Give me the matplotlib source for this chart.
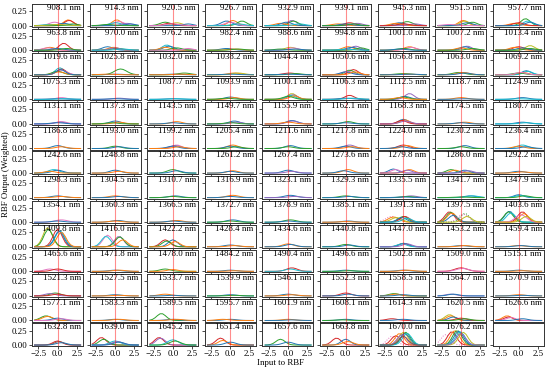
import numpy as np
import matplotlib
matplotlib.use("Agg")
import matplotlib.pyplot as plt

plt.rcParams['font.family'] = ['Liberation Serif', 'DejaVu Serif']

WAVELENGTHS = [
    908.1, 914.3, 920.5, 926.7, 932.9, 939.1, 945.3, 951.5, 957.7,
    963.8, 970.0, 976.2, 982.4, 988.6, 994.8, 1001.0, 1007.2, 1013.4,
    1019.6, 1025.8, 1032.0, 1038.2, 1044.4, 1050.6, 1056.8, 1063.0, 1069.2,
    1075.3, 1081.5, 1087.7, 1093.9, 1100.1, 1106.3, 1112.5, 1118.7, 1124.9,
    1131.1, 1137.3, 1143.5, 1149.7, 1155.9, 1162.1, 1168.3, 1174.5, 1180.7,
    1186.8, 1193.0, 1199.2, 1205.4, 1211.6, 1217.8, 1224.0, 1230.2, 1236.4,
    1242.6, 1248.8, 1255.0, 1261.2, 1267.4, 1273.6, 1279.8, 1286.0, 1292.2,
    1298.3, 1304.5, 1310.7, 1316.9, 1323.1, 1329.3, 1335.5, 1341.7, 1347.9,
    1354.1, 1360.3, 1366.5, 1372.7, 1378.9, 1385.1, 1391.3, 1397.5, 1403.6,
    1409.8, 1416.0, 1422.2, 1428.4, 1434.6, 1440.8, 1447.0, 1453.2, 1459.4,
    1465.6, 1471.8, 1478.0, 1484.2, 1490.4, 1496.6, 1502.8, 1509.0, 1515.1,
    1521.3, 1527.5, 1533.7, 1539.9, 1546.1, 1552.3, 1558.5, 1564.7, 1570.9,
    1577.1, 1583.3, 1589.5, 1595.7, 1601.9, 1608.1, 1614.3, 1620.5, 1626.6,
    1632.8, 1639.0, 1645.2, 1651.4, 1657.6, 1663.8, 1670.0, 1676.2,
]

# per panel: (centre, height, colour index, sigma[, linestyle])
CURVES = [
    # 908.1 .. 957.7
    [(-0.4, .06, 6, .7), (-1.0, .02, 9, .9), (1.4, .10, 1, .6), (1.5, .09, 3, .6), (0.8, .04, 0, .7), (2.0, .03, 2, .6), (0.0, .02, 8, 1.)],
    [(0.2, .10, 1, .6), (0.5, .07, 6, .7), (0.0, .05, 9, .8), (1.5, .04, 4, .7), (2.0, .03, 0, .6), (-1.0, .02, 2, .8)],
    [(-1.0, .06, 2, .7), (0.5, .05, 8, .7), (-0.5, .04, 3, .7), (2.0, .03, 0, .6), (0.0, .03, 6, .9)],
    [(-0.5, .08, 0, .7), (0.3, .09, 1, .6), (1.5, .08, 2, .6), (0.0, .06, 6, .7), (1.0, .03, 9, .8)],
    [(0.5, .09, 4, .6), (0.7, .08, 2, .6), (-1.0, .04, 1, .7), (-0.2, .06, 0, .7), (1.5, .03, 9, .7)],
    [(-1.0, .03, 1, .8), (0.5, .05, 3, .7), (1.5, .04, 4, .7), (0.0, .03, 0, .8), (1.0, .03, 2, .7)],
    [(0.5, .07, 2, .7), (-0.5, .05, 0, .7), (-1.0, .04, 1, .7), (1.5, .03, 4, .7), (0.0, .03, 3, .8)],
    [(0.3, .09, 1, .6), (0.5, .08, 8, .6), (1.5, .06, 2, .6), (0.8, .05, 0, .7), (-1.5, .02, 6, .8)],
    [(0.9, .12, 2, .6), (1.2, .08, 9, .6), (-0.5, .04, 1, .7), (0.0, .05, 3, .7), (1.5, .06, 0, .6)],
    # 963.8 .. 1013.4
    [(0.8, .12, 3, .6), (-1.0, .05, 1, .7), (-1.3, .04, 6, .7), (0.0, .03, 0, .8), (1.2, .03, 2, .7)],
    [(-1.0, .06, 0, .7), (-0.2, .05, 1, .7), (0.3, .03, 2, .8), (0.0, .04, 4, .7), (1.0, .02, 9, .8)],
    [(-0.8, .09, 9, .6), (-0.5, .07, 0, .7), (-1.0, .05, 1, .7), (0.5, .04, 2, .7), (2.0, .03, 6, .6)],
    [(-0.5, .03, 0, .8), (0.5, .02, 1, .8), (1.0, .02, 2, .8)],
    [(0.3, .05, 8, .7), (0.6, .04, 6, .7), (-1.0, .02, 2, .8), (1.0, .02, 0, .8)],
    [(1.3, .07, 4, .6), (0.3, .06, 1, .7), (0.8, .05, 0, .7), (2.0, .04, 2, .6), (0.0, .02, 9, .8)],
    [(0.8, .06, 1, .7), (1.0, .05, 6, .7), (0.0, .03, 2, .8), (-0.5, .02, 0, .8)],
    [(0.8, .07, 4, .6), (0.5, .06, 0, .7), (0.0, .04, 1, .7), (1.5, .03, 2, .7)],
    [(1.5, .08, 8, .6), (0.0, .06, 3, .7), (-0.5, .05, 1, .7), (0.5, .04, 0, .7), (1.5, .03, 2, .7)],
    # 1019.6 .. 1069.2
    [(0.3, .12, 9, .6), (0.5, .10, 3, .6), (0.5, .08, 6, .7), (0.0, .06, 2, .7), (0.2, .05, 1, .7), (0.4, .09, 0, .6)],
    [(0.7, .10, 2, .8), (0.0, .01, 0, 1.), (-1.0, .01, 1, 1.)],
    [(1.5, .03, 2, .8), (0.0, .01, 0, 1.), (1.0, .01, 1, 1.)],
    [(0.5, .03, 1, .8), (1.0, .03, 8, .8), (0.0, .01, 0, 1.)],
    [(0.2, .03, 3, .8), (1.0, .02, 2, .8), (0.0, .01, 0, 1.)],
    [(1.0, .09, 3, .6), (0.5, .08, 2, .6), (0.2, .06, 6, .7), (0.0, .05, 0, .7), (1.2, .05, 1, .6)],
    [(0.0, .02, 2, 1.), (0.5, .01, 1, 1.), (1.0, .01, 0, 1.)],
    [(-0.3, .04, 2, .8), (0.3, .04, 1, .8), (0.5, .03, 0, .8)],
    [(1.0, .07, 0, .6), (1.2, .06, 9, .6), (0.5, .04, 1, .7), (0.0, .03, 2, .8), (0.3, .04, 6, .7)],
    # 1075.3 .. 1124.9
    [(0.5, .03, 6, .7), (0.0, .01, 0, 1.), (1.0, .01, 9, 1.)],
    [(0.5, .02, 4, .8), (0.0, .01, 0, 1.)],
    [(0.0, .01, 0, 1.), (0.5, .01, 9, 1.)],
    [(0.0, .04, 0, .7), (0.5, .03, 1, .7), (-0.5, .02, 2, .8)],
    [(0.5, .10, 8, .6), (0.6, .08, 4, .6), (0.3, .07, 9, .6), (0.8, .06, 1, .6), (0.0, .05, 2, .7)],
    [(0.5, .07, 3, .6), (0.0, .02, 0, .9), (1.0, .02, 9, .9)],
    [(0.8, .10, 4, .6), (0.2, .05, 0, .7), (0.0, .04, 2, .7), (-0.5, .03, 1, .7)],
    [(0.0, .03, 1, .8), (0.5, .01, 0, 1.)],
    [(0.5, .03, 0, .8), (0.0, .01, 9, 1.)],
    # 1131.1 .. 1180.7
    [(0.5, .04, 6, .7), (0.3, .03, 4, .7), (0.0, .02, 0, .9)],
    [(0.0, .05, 0, .7), (0.5, .03, 1, .7), (-0.5, .02, 2, .8)],
    [(0.5, .04, 1, .7), (0.0, .02, 0, .8)],
    [(0.5, .05, 0, .7), (0.8, .03, 4, .7), (0.0, .02, 2, .8)],
    [(0.5, .06, 0, .7), (0.6, .05, 4, .7), (0.0, .03, 1, .8)],
    [(0.3, .04, 2, .7), (0.0, .02, 0, .8)],
    [(0.0, .08, 0, .6), (0.2, .07, 1, .6), (-0.2, .06, 3, .6), (0.3, .05, 4, .7)],
    [(0.5, .03, 1, .8), (0.0, .02, 0, .8)],
    [(0.5, .03, 0, .8), (1.0, .02, 9, .8)],
    # 1186.8 .. 1236.4
    [(0.0, .05, 0, .7), (0.5, .03, 1, .7)],
    [(0.0, .04, 2, .7), (0.5, .03, 0, .7)],
    [(0.5, .06, 6, .6), (0.3, .05, 4, .7), (0.0, .04, 0, .7), (0.8, .03, 1, .7)],
    [(0.3, .06, 1, .7), (0.0, .04, 0, .7), (0.8, .03, 2, .7)],
    [(0.3, .05, 0, .7), (0.0, .03, 2, .7)],
    [(0.5, .06, 4, .7), (0.0, .04, 0, .7), (0.8, .03, 1, .7)],
    [(0.0, .06, 3, .7), (0.5, .05, 1, .7), (-0.3, .03, 0, .7)],
    [(0.5, .05, 0, .7), (0.0, .03, 2, .7)],
    [(0.5, .06, 9, .7), (0.0, .04, 1, .7), (1.0, .03, 0, .7)],
    # 1242.6 .. 1292.2
    [(-0.5, .06, 9, .7), (0.0, .05, 0, .7), (-1.0, .03, 1, .7)],
    [(0.0, .05, 0, .7), (0.5, .03, 1, .7)],
    [(0.0, .06, 2, .7), (0.5, .04, 0, .7)],
    [(0.3, .04, 1, .7), (0.0, .03, 0, .7)],
    [(0.0, .05, 0, .7), (0.5, .03, 4, .7)],
    [(0.3, .06, 1, .7), (-0.3, .04, 0, .7)],
    [(-1.3, .07, 0, .6), (-1.0, .06, 6, .6), (0.8, .06, 1, .6), (0.5, .05, 4, .6)],
    [(-1.3, .06, 2, .6), (-0.8, .05, 1, .6), (0.5, .05, 0, .6), (1.0, .04, 4, .6)],
    [(0.0, .03, 0, .8), (0.5, .02, 1, .8)],
    # 1298.3 .. 1347.9
    [(0.0, .03, 0, .8), (0.5, .02, 1, .8)],
    [(0.0, .03, 1, .8), (0.5, .02, 0, .8)],
    [(0.3, .03, 0, .8), (0.0, .02, 2, .8)],
    [(0.3, .04, 1, .8), (0.0, .02, 0, .8)],
    [(0.3, .04, 0, .8), (0.8, .02, 4, .8)],
    [(0.0, .03, 2, .8), (0.5, .02, 0, .8)],
    [(1.0, .03, 4, .8), (0.5, .02, 2, .8), (0.0, .01, 0, 1.)],
    [(1.2, .03, 0, .8), (1.5, .03, 9, .8), (0.0, .01, 2, 1.)],
    [(0.0, .05, 0, .6), (0.3, .04, 9, .7), (0.8, .03, 2, .7)],
    # 1354.1 .. 1403.6
    [(0.5, .04, 6, .8), (0.0, .02, 0, .8)],
    [(0.3, .03, 0, .8), (0.0, .02, 1, .8)],
    [(0.5, .03, 1, .8), (0.0, .02, 0, .8)],
    [(0.3, .04, 0, .8), (0.0, .02, 2, .8)],
    [(0.3, .04, 2, .8), (0.0, .02, 0, .8)],
    [(0.3, .02, 0, .8), (0.0, .01, 1, .8)],
    [(-1.5, .10, 6, .8, ':'), (-1.3, .09, 1, .7), (-0.9, .08, 8, .7), (0.0, .10, 2, .6), (0.2, .10, 3, .6),
     (-0.2, .08, 0, .6), (0.5, .07, 9, .6)],
    [(-1.5, .18, 3, .6), (-1.3, .17, 2, .6), (-1.2, .16, 1, .6), (-1.0, .12, 0, .6), (0.3, .14, 6, .7, ':'),
     (0.5, .15, 2, .6, ':'), (0.8, .10, 8, .6)],
    [(-1.2, .19, 0, .6), (-1.3, .18, 2, .6), (-1.0, .16, 9, .6), (0.5, .18, 3, .6), (0.7, .15, 1, .6),
     (0.3, .13, 6, .7), (1.0, .10, 8, .6)],
    # 1409.8 .. 1459.4
    [(-1.3, .33, 8, .6), (-1.2, .30, 2, .6), (0.0, .30, 3, .6), (0.3, .28, 9, .6), (0.2, .27, 0, .6), (0.5, .25, 1, .6)],
    [(-1.0, .20, 6, .6), (-1.2, .18, 9, .6), (0.5, .18, 4, .6), (0.6, .17, 2, .6), (1.0, .12, 1, .6)],
    [(-1.0, .12, 3, .6), (0.0, .12, 0, .6), (-0.8, .10, 2, .6), (0.3, .09, 1, .6)],
    [(0.0, .03, 0, .8), (0.5, .02, 1, .8)],
    [(0.0, .05, 1, .7), (0.3, .04, 0, .7)],
    [(0.0, .04, 2, .7), (0.5, .03, 0, .7)],
    [(0.0, .06, 3, .6), (0.1, .06, 0, .6), (-0.2, .05, 9, .6), (0.5, .05, 4, .6)],
    [(0.0, .02, 0, .8), (0.5, .02, 1, .8)],
    [(0.0, .02, 1, .8), (0.3, .02, 0, .8)],
    # 1465.6 .. 1515.1
    [(-1.0, .04, 6, .7), (0.0, .04, 3, .7)],
    [(0.0, .02, 0, .8), (0.5, .02, 1, .8)],
    [(-1.0, .04, 2, .7), (0.0, .03, 1, .7)],
    [(0.0, .02, 0, .8), (0.5, .01, 1, .8)],
    [(0.5, .06, 3, .7), (0.3, .04, 9, .7)],
    [(0.0, .02, 0, .8), (0.5, .01, 2, .8)],
    [(0.0, .02, 0, .8), (0.5, .02, 1, .8)],
    [(0.0, .06, 3, .8), (0.2, .05, 6, .8)],
    [(0.0, .02, 0, .8), (0.5, .01, 1, .8)],
    # 1521.3 .. 1570.9
    [(-0.3, .05, 2, .7), (-1.0, .04, 4, .7), (0.0, .03, 3, .7)],
    [(0.0, .02, 0, .8), (0.5, .01, 1, .8)],
    [(-1.0, .03, 1, .8), (0.0, .01, 0, .8)],
    [(0.0, .02, 0, .8), (0.5, .01, 2, .8)],
    [(0.0, .03, 0, .8), (0.5, .02, 1, .8)],
    [(0.0, .05, 3, .7), (0.3, .03, 0, .7)],
    [(-1.2, .04, 2, .7), (-1.0, .03, 1, .7), (0.0, .02, 0, .8)],
    [(-1.3, .03, 4, .7), (-1.0, .03, 0, .7)],
    [(0.0, .02, 1, .8), (0.5, .01, 0, .8)],
    # 1577.1 .. 1626.6
    [(-1.5, .08, 2, .7), (-1.3, .07, 1, .7), (0.0, .04, 0, .7), (0.5, .03, 6, .7)],
    [(0.0, .02, 0, .8), (0.5, .02, 1, .8)],
    [(-1.5, .12, 2, .6), (0.0, .02, 0, .8), (0.5, .02, 1, .8)],
    [(0.0, .02, 0, .8), (-1.0, .02, 1, .8)],
    [(0.0, .02, 1, .8), (0.5, .01, 0, .8)],
    [(0.0, .02, 0, .8), (-0.5, .01, 2, .8)],
    [(-1.5, .03, 3, .7), (0.0, .02, 0, .8)],
    [(-1.5, .10, 8, .6), (-1.3, .08, 1, .6), (-1.0, .06, 0, .6), (0.0, .04, 3, .7), (0.5, .03, 2, .7)],
    [(-1.5, .08, 1, .6), (-1.3, .06, 3, .6), (-1.0, .05, 6, .6), (0.5, .03, 0, .7)],
    # 1632.8 .. 1676.2
    [(0.0, .07, 3, .6), (0.2, .06, 5, .6), (0.5, .04, 0, .7)],
    [(-1.8, .13, 3, .6), (-1.5, .10, 2, .6), (0.0, .07, 9, .7), (0.3, .06, 4, .7), (0.5, .05, 0, .7)],
    [(-1.8, .13, 3, .6), (-1.6, .12, 4, .6), (0.0, .09, 9, .7), (0.3, .07, 2, .7)],
    [(-1.3, .12, 3, .6), (-1.0, .08, 1, .6), (0.0, .05, 0, .7)],
    [(-1.0, .10, 2, .6), (0.0, .05, 0, .7)],
    [(-1.2, .12, 3, .6), (0.0, .10, 0, .6), (0.3, .06, 1, .7)],
    [(-1.5, .15, 6, .6, ':'), (-1.0, .16, 3, .6), (-0.5, .20, 1, .6), (0.0, .22, 8, .6), (0.3, .22, 2, .6),
     (0.2, .20, 0, .6), (-0.2, .18, 4, .6), (0.5, .20, 9, .6), (0.0, .15, 5, .6)],
    [(-2.0, .18, 6, .6, ':'), (-1.2, .23, 3, .6), (-0.8, .25, 1, .6), (-0.5, .25, 2, .6), (-0.3, .24, 0, .6),
     (-0.1, .23, 9, .6), (0.3, .22, 8, .6), (0.0, .20, 4, .6)],
]

COLORS = plt.rcParams['axes.prop_cycle'].by_key()['color']
x = np.linspace(-3, 3, 19)
FS = 6.4

fig, axes = plt.subplots(14, 9, figsize=(5.5, 3.67), dpi=100, sharex=True, sharey=True)
fig.subplots_adjust(left=0.058, right=0.989, top=0.989, bottom=0.057,
                    wspace=0.13, hspace=0.085)

for i, ax in enumerate(axes.flat):
    ax.tick_params(labelsize=FS, length=2, width=0.5, pad=1)
    for sp in ax.spines.values():
        sp.set_linewidth(0.7)
        sp.set_color('#333333')
    if i >= len(WAVELENGTHS):
        continue
    for cv in CURVES[i]:
        c, h, k, s = cv[:4]
        ls = cv[4] if len(cv) > 4 else '-'
        ax.plot(x, h * np.exp(-(x - c) ** 2 / (2 * s * s)), color=COLORS[k], lw=0.7, ls=ls)
    ax.axvline(0, color='red', lw=0.8, alpha=0.45)
    ax.text(0.96, 1.0, f"{WAVELENGTHS[i]:.1f} nm", transform=ax.transAxes,
            ha='right', va='top', fontsize=FS)

ax0 = axes[0, 0]
ax0.set_xlim(-3.35, 3.3)
ax0.set_ylim(-0.018, 0.373)
ax0.set_xticks([-2.5, 0.0, 2.5])
ax0.set_yticks([0.0, 0.25])
for ax in axes[-1]:
    ax.set_xticklabels(["\u22122.5", "0.0", "2.5"])

fig.text(0.51, 0.0, "Input to RBF", ha='center', va='bottom', fontsize=FS)
fig.text(0.004, 0.525, "RBF Output (Weighted)", rotation=90, ha='left', va='center', fontsize=FS)

plt.savefig("out.png", dpi=100)
plt.close()
